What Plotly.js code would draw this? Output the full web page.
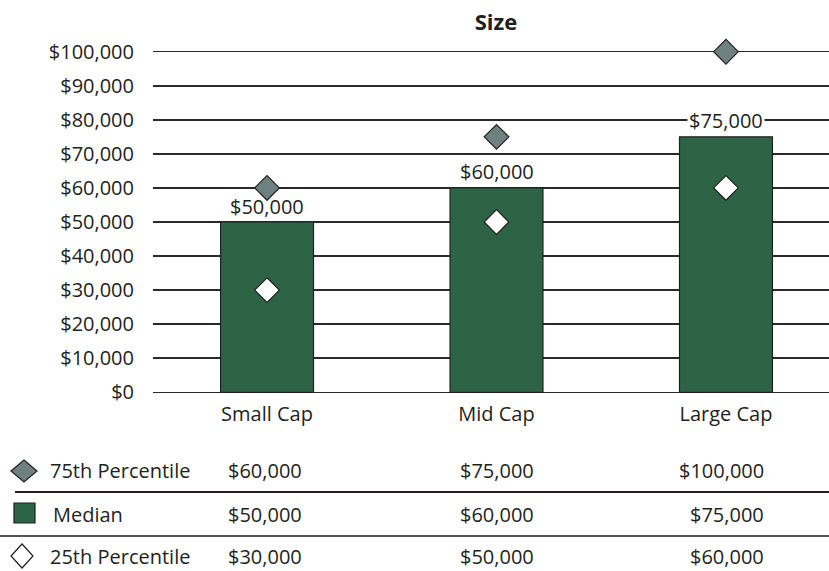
<!DOCTYPE html>
<html>
<head>
<meta charset="utf-8">
<script src="https://cdn.plot.ly/plotly-3.0.1.min.js"></script>
<style>html,body{margin:0;padding:0;background:#fff;}#chart{width:829px;height:571px;}</style>
</head>
<body>
<div id="chart"></div>
<script>
const categories = ["Small Cap", "Mid Cap", "Large Cap"];
const median = [50000, 60000, 75000];
const p75 = [60000, 75000, 100000];
const p25 = [30000, 50000, 60000];
const yTicks = [0, 10000, 20000, 30000, 40000, 50000, 60000, 70000, 80000, 90000, 100000];
const rowLabels = ["75th Percentile", "Median", "25th Percentile"];
const titleText = "Size";

const fmt = v => "$" + v.toLocaleString("en-US");

const W = 829, H = 571;
const L = 153, R = 0, T = 50, B = 177;
const plotW = W - L - R, plotH = H - T - B;
const Y0 = -500, Y1 = 100500;
const px = p => (p - L) / plotW;
const py = p => (H - B - p) / plotH;

const FONT = "Open Sans";
const FS = 20;
const TXT = "#231f20";
const GREEN = "#2d6446";
const GRAY = "#6e8080";
const EDGE = "#231f20";

const traces = [
  {
    type: "bar", x: categories, y: median, name: "Median",
    width: 0.405,
    marker: {color: GREEN, line: {color: EDGE, width: 1.2}},
    hoverinfo: "skip", showlegend: false
  },
  {
    type: "scatter", mode: "markers", x: categories, y: p75, name: "75th Percentile",
    marker: {symbol: "diamond", size: 19, color: GRAY, line: {color: EDGE, width: 1.2}},
    cliponaxis: false, showlegend: false
  },
  {
    type: "scatter", mode: "markers", x: categories, y: p25, name: "25th Percentile",
    marker: {symbol: "diamond", size: 19, color: "#ffffff", line: {color: EDGE, width: 1.2}},
    cliponaxis: false, showlegend: false
  }
];

const annotations = [];
// bar value labels (white backing only where the label sits on a gridline)
const LABEL_SHIFT = 16;
const unitsPerPx = (Y1 - Y0) / plotH;
categories.forEach((c, i) => {
  const centerVal = median[i] + LABEL_SHIFT * unitsPerPx;
  const nearest = Math.min(...yTicks.map(t => Math.abs(t - centerVal)));
  const onGrid = nearest < 10 * unitsPerPx;
  annotations.push({
    x: c, y: median[i], xref: "x", yref: "y", text: fmt(median[i]),
    showarrow: false, yanchor: "middle", yshift: LABEL_SHIFT,
    bgcolor: onGrid ? "#ffffff" : "rgba(0,0,0,0)", borderpad: 1,
    font: {family: FONT, size: FS, color: TXT}
  });
});

// table
const rowY = [470, 514, 556];
const labelX = [48, 51, 48];
const colRight = [304, 536, 766];
const rows = [p75, median, p25];
rowLabels.forEach((lab, r) => {
  annotations.push({
    x: px(labelX[r]), y: py(rowY[r]), xref: "paper", yref: "paper",
    xanchor: "left", yanchor: "middle", text: lab, showarrow: false,
    font: {family: FONT, size: FS, color: TXT}
  });
  rows[r].forEach((v, c) => {
    annotations.push({
      x: px(colRight[c]), y: py(rowY[r]), xref: "paper", yref: "paper",
      xanchor: "right", yanchor: "middle", text: fmt(v), showarrow: false,
      font: {family: FONT, size: FS, color: TXT}
    });
  });
});

function diamondPath(cx, cy, hw, hh) {
  return "M" + px(cx - hw) + "," + py(cy) + " L" + px(cx) + "," + py(cy - hh) +
         " L" + px(cx + hw) + "," + py(cy) + " L" + px(cx) + "," + py(cy + hh) + " Z";
}

const shapes = [
  {type: "line", xref: "paper", yref: "paper", x0: px(15), x1: px(829), y0: py(492), y1: py(492),
   line: {color: TXT, width: 2.2}},
  {type: "line", xref: "paper", yref: "paper", x0: px(0), x1: px(829), y0: py(536), y1: py(536),
   line: {color: "#555555", width: 2}},
  {type: "path", xref: "paper", yref: "paper", path: diamondPath(24, 471, 13, 11),
   fillcolor: GRAY, line: {color: EDGE, width: 1.2}},
  {type: "rect", xref: "paper", yref: "paper", x0: px(14), x1: px(35), y0: py(503), y1: py(523),
   fillcolor: GREEN, line: {color: EDGE, width: 1.2}},
  {type: "path", xref: "paper", yref: "paper", path: diamondPath(22, 556, 11, 12),
   fillcolor: "#ffffff", line: {color: EDGE, width: 1.2}}
];

const layout = {
  width: W, height: H,
  margin: {l: L, r: R, t: T, b: B, pad: 0},
  paper_bgcolor: "#ffffff", plot_bgcolor: "#ffffff",
  showlegend: false,
  title: {text: "<b>" + titleText + "</b>", x: 496 / W, xref: "container", xanchor: "center",
          y: 1 - 22 / H, yref: "container", yanchor: "middle",
          font: {family: FONT, size: 22, color: TXT}},
  font: {family: FONT, size: FS, color: TXT},
  xaxis: {
    type: "category", range: [-0.497, 2.449], showgrid: false, zeroline: false,
    showline: false, ticks: "", ticklabelstandoff: 6,
    tickfont: {family: FONT, size: FS, color: TXT}, fixedrange: true
  },
  yaxis: {
    range: [Y0, Y1], tickvals: yTicks, ticktext: yTicks.map(fmt),
    showgrid: true, gridcolor: "#2a2a2a", gridwidth: 1.5, zeroline: false,
    showline: false, ticks: "", ticklabelstandoff: 18,
    tickfont: {family: FONT, size: FS, color: TXT}, fixedrange: true
  },
  annotations: annotations,
  shapes: shapes
};

Plotly.newPlot("chart", traces, layout, {displayModeBar: false, staticPlot: true});
</script>
</body>
</html>
